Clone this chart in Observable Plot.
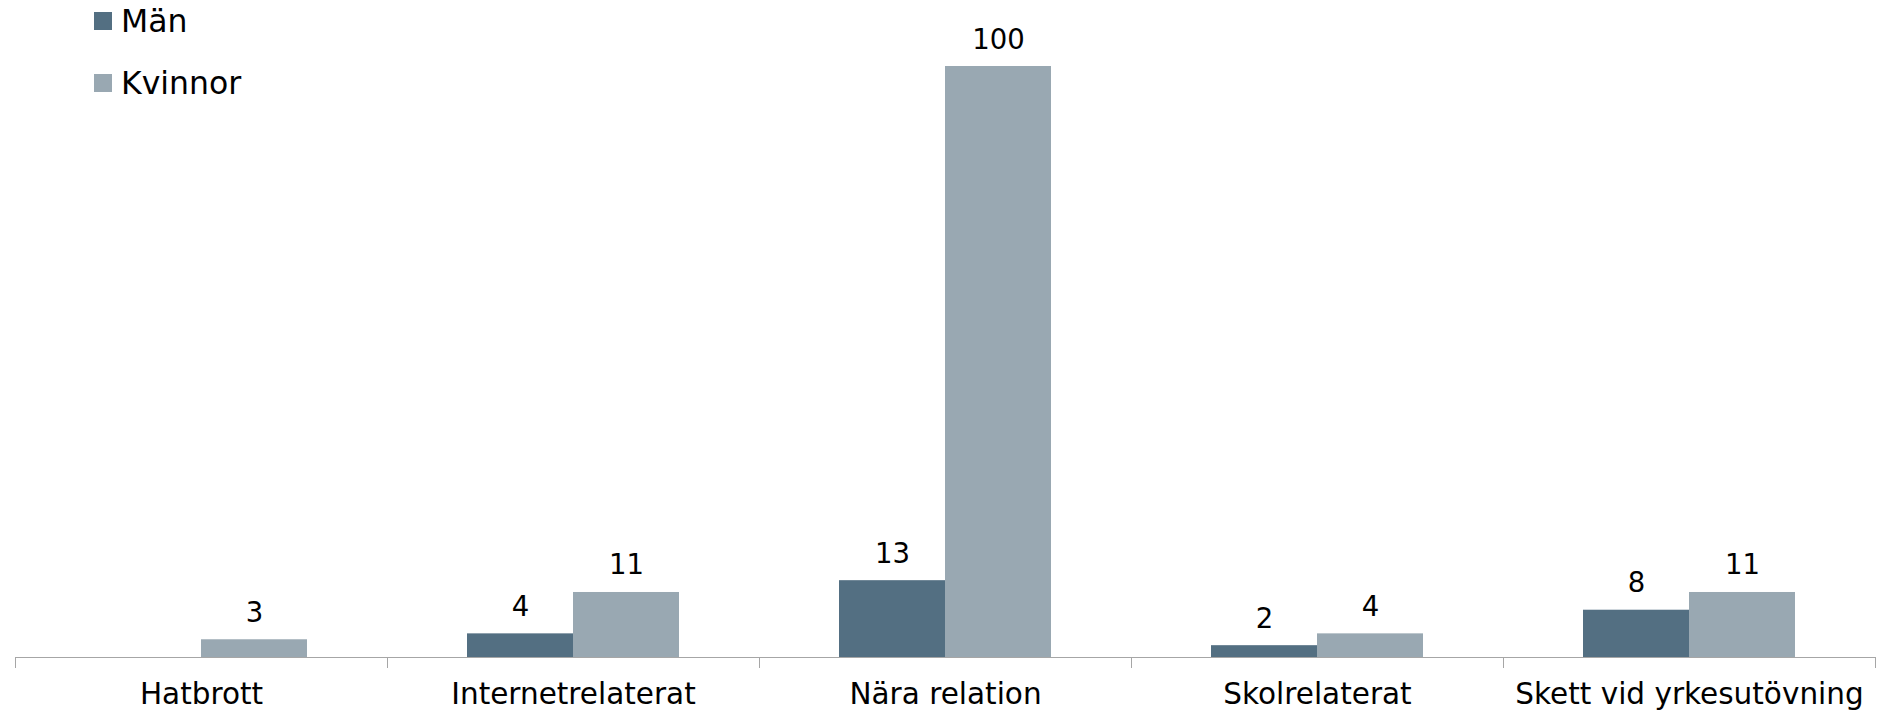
<!DOCTYPE html>
<html><head><meta charset="utf-8">
<script src="https://cdn.jsdelivr.net/npm/d3@7"></script>
<script src="https://cdn.jsdelivr.net/npm/@observablehq/plot@0.6"></script>
<style>
body{margin:0;background:#fff;font-family:"DejaVu Sans",Verdana,sans-serif;}
#wrap{position:relative;width:1877px;height:712px;}
#legend{position:absolute;left:94px;top:0;}
.item{position:absolute;left:0;display:flex;align-items:center;white-space:nowrap;font-size:31.5px;line-height:36px;color:#000;}
.sw{width:18px;height:18px;margin-right:9px;flex:none;}
</style></head><body>
<div id="wrap"><div id="legend"></div></div>
<script>
const categories = ["Hatbrott","Internetrelaterat","Nära relation","Skolrelaterat","Skett vid yrkesutövning"];
const series = ["Män","Kvinnor"];
const manValues = [null,4,13,2,8];
const kvinnorValues = [3,11,100,4,11];
const colors = ["#536f82","#99a8b2"];
const yDomain = [0,100];

const data = [];
categories.forEach((c,i)=>{
  data.push({category:c, series:"Män", value:manValues[i]});
  data.push({category:c, series:"Kvinnor", value:kvinnorValues[i]});
});
const shown = data.filter(d=>d.value!=null);

const chart = Plot.plot({
  width:1877, height:712, marginTop:0, marginLeft:13, marginRight:1, marginBottom:45,
  style:{fontFamily:"DejaVu Sans, Verdana, sans-serif", fontSize:"29.5px", color:"#000", background:"#fff", overflow:"visible"},
  fx:{domain:categories, padding:0, label:null, axis:"bottom", tickSize:0, tickPadding:16},
  x:{domain:series, paddingInner:0, paddingOuter:0.75, axis:null},
  y:{domain:yDomain, range:[657,66], axis:null},
  color:{domain:series, range:colors},
  marks:[
    Plot.barY(shown, {fx:"category", x:"series", y:"value", fill:"series"}),
    Plot.ruleY([0], {stroke:"#a6a6a6"}),
    Plot.frame({anchor:"left", stroke:"#a6a6a6", insetTop:657}),
    Plot.frame({anchor:"right", stroke:"#a6a6a6", insetTop:657}),
    Plot.text(shown, {fx:"category", x:"series", y:"value", text:d=>String(d.value), dy:-18, lineAnchor:"bottom", fontSize:27.5, fill:"#000"})
  ]
});
document.getElementById("wrap").appendChild(chart);

const legend = document.getElementById("legend");
series.forEach((s,i)=>{
  const it = document.createElement("div");
  it.className = "item";
  it.style.top = (3 + i*62) + "px";
  const sw = document.createElement("span");
  sw.className = "sw";
  sw.style.background = colors[i];
  it.appendChild(sw);
  it.appendChild(document.createTextNode(s));
  legend.appendChild(it);
});
</script>
</body></html>
